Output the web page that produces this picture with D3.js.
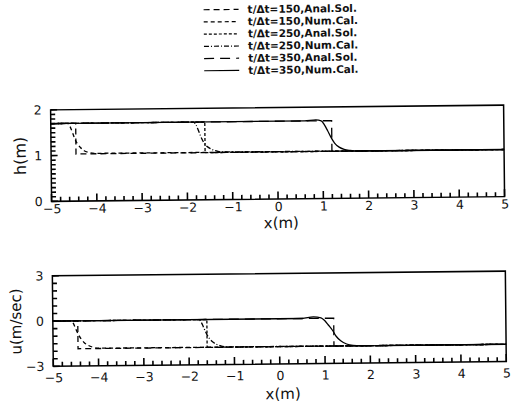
<!DOCTYPE html>
<html>
<head>
<meta charset="utf-8">
<script src="https://cdn.jsdelivr.net/npm/d3@7"></script>
<style>
  html, body { margin: 0; padding: 0; background: #fff; }
  svg { display: block; }
  text { font-family: "DejaVu Sans", sans-serif; fill: #111; }
</style>
</head>
<body>
<svg id="chart" width="516" height="402"></svg>
<script>
// ---- data -----------------------------------------------------------
const legendLabels = [
  "t/\u0394t=150,Anal.Sol.",
  "t/\u0394t=150,Num.Cal.",
  "t/\u0394t=250,Anal.Sol.",
  "t/\u0394t=250,Num.Cal.",
  "t/\u0394t=350,Anal.Sol.",
  "t/\u0394t=350,Num.Cal."
];
const lineDashes = ["6,4", "4,3", "3,2", "5,2,1,2", "10,6", null];

const xTicksMajor = [-5, -4, -3, -2, -1, 0, 1, 2, 3, 4, 5];
const hTicksMajor = [0, 1, 2];
const uTicksMajor = [-3, 0, 3];

// analytical solutions (step profiles), [x, value]
const hAnal150 = [[-5, 1.7], [-4.45, 1.7], [-4.45, 1.03], [5, 1.03]];
const hAnal250 = [[-5, 1.7], [-1.6, 1.7], [-1.6, 1.03], [5, 1.03]];
const hAnal350 = [[-5, 1.7], [1.2, 1.7], [1.2, 1.03], [5, 1.03]];
const uAnal150 = [[-5, 0], [-4.45, 0], [-4.45, -1.85], [5, -1.85]];
const uAnal250 = [[-5, 0], [-1.6, 0], [-1.6, -1.85], [5, -1.85]];
const uAnal350 = [[-5, 0], [1.2, 0], [1.2, -1.85], [5, -1.85]];

// numerical results, x positions and values
const x150Num = [-5, -4.63, -4.58, -4.53, -4.48, -4.42, -4.35, -4.27, -4.17, -4.03, 5];
const h150Num = [1.7, 1.7, 1.64, 1.52, 1.38, 1.26, 1.17, 1.1, 1.06, 1.04, 1.03];
const x250Num = [-5, -1.85, -1.79, -1.74, -1.69, -1.63, -1.56, -1.47, -1.37, -1.22, 5];
const h250Num = [1.7, 1.7, 1.63, 1.51, 1.38, 1.26, 1.17, 1.11, 1.07, 1.04, 1.03];
const x350Num = [-5, 0.6, 0.85, 0.97, 1.04, 1.11, 1.18, 1.26, 1.36, 1.47, 1.6, 1.8, 5];
const h350Num = [1.7, 1.7, 1.72, 1.7, 1.61, 1.48, 1.34, 1.21, 1.12, 1.07, 1.045, 1.03, 1.03];

const xu150Num = [-5, -4.6, -4.55, -4.5, -4.44, -4.38, -4.31, -4.23, -4.13, -3.98, 5];
const u150Num = [0, 0, -0.15, -0.5, -0.9, -1.2, -1.45, -1.62, -1.75, -1.83, -1.85];
const xu250Num = [-5, -1.78, -1.72, -1.67, -1.61, -1.55, -1.48, -1.4, -1.3, -1.15, 5];
const u250Num = [0, 0, -0.2, -0.55, -0.95, -1.25, -1.48, -1.64, -1.75, -1.83, -1.85];
const xu350Num = [-5, 0.5, 0.75, 0.92, 1.0, 1.08, 1.17, 1.25, 1.35, 1.48, 1.62, 1.8, 5];
const u350Num = [0, 0, 0.1, 0.03, -0.15, -0.45, -0.8, -1.2, -1.5, -1.72, -1.82, -1.85, -1.85];

// ---- layout ---------------------------------------------------------
const svg = d3.select("#chart");
const root = svg.append("g").attr("transform", "rotate(-0.6, 278, 240)");

const x = d3.scaleLinear().domain([-5, 5]).range([52, 505]);
const yh = d3.scaleLinear().domain([0, 2]).range([199, 107.5]);
const yu = d3.scaleLinear().domain([-3, 3]).range([364, 273.5]);

const zip = (xs, vs) => xs.map((d, i) => [d, vs[i]]);
const isMajor = v => Math.abs(v - Math.round(v)) < 1e-6;
const INK = "#000";

function panel(y, yMinorStep, yMajor, seriesList, yLabel, yLabelFont, xLabelY, xTickPad) {
  const g = root.append("g");
  const [x0, x1] = x.range();
  const [yb, yt] = y.range();

  // box around the plotting area
  g.append("rect")
    .attr("x", x0).attr("y", yt).attr("width", x1 - x0).attr("height", yb - yt)
    .attr("fill", "none").attr("stroke", INK).attr("stroke-width", 1.5);

  // x ticks every 0.2, longer at integers, pointing into the plot
  const xTickVals = d3.range(-5, 5.0001, 0.2).map(v => +v.toFixed(2));
  const xt = xTickVals.map(d => `M${x(d)},${yb}V${yb - (isMajor(d) ? 7.5 : 4.5)}`).join("");
  g.append("path").attr("d", xt).attr("fill", "none")
    .attr("stroke", INK).attr("stroke-width", 1.6);

  // y ticks
  const [d0, d1] = y.domain();
  const yTickVals = d3.range(d0, d1 + 1e-6, yMinorStep).map(v => +v.toFixed(2));
  const yt2 = yTickVals.map(d => `M${x0},${y(d)}H${x0 + (yMajor.includes(d) ? 6.5 : 4.5)}`).join("");
  g.append("path").attr("d", yt2).attr("fill", "none")
    .attr("stroke", INK).attr("stroke-width", 1.6);

  // tick labels through the axis generators
  g.append("g").attr("transform", `translate(0,${yb})`)
    .call(d3.axisBottom(x).tickValues(xTicksMajor).tickSize(0).tickPadding(xTickPad)
      .tickFormat(d3.format("d")))
    .call(a => a.select(".domain").remove())
    .call(a => a.selectAll("text").attr("font-size", 12.5));
  g.append("g").attr("transform", `translate(${x0},0)`)
    .call(d3.axisLeft(y).tickValues(yMajor).tickSize(0).tickPadding(9)
      .tickFormat(d3.format("d")))
    .call(a => a.select(".domain").remove())
    .call(a => a.selectAll("text").attr("font-size", 12.5));

  // curves
  const lineLin = d3.line().x(d => x(d[0])).y(d => y(d[1]));
  const lineSmooth = d3.line().x(d => x(d[0])).y(d => y(d[1])).curve(d3.curveMonotoneX);
  seriesList.forEach((s, i) => {
    g.append("path")
      .attr("d", (s.smooth ? lineSmooth : lineLin)(s.pts))
      .attr("fill", "none")
      .attr("stroke", INK)
      .attr("stroke-width", 1.3)
      .attr("stroke-dasharray", lineDashes[i]);
  });

  // axis titles
  g.append("text")
    .attr("transform", `translate(${yLabel.x},${(yb + yt) / 2}) rotate(-90)`)
    .attr("text-anchor", "middle").attr("dy", "0.35em")
    .attr("font-size", yLabelFont).text(yLabel.text);
  g.append("text")
    .attr("x", x(0) + 3).attr("y", xLabelY)
    .attr("text-anchor", "middle").attr("font-size", 15).text("x(m)");
}

panel(yh, 0.1, hTicksMajor, [
  { pts: hAnal150 }, { pts: zip(x150Num, h150Num), smooth: true },
  { pts: hAnal250 }, { pts: zip(x250Num, h250Num), smooth: true },
  { pts: hAnal350 }, { pts: zip(x350Num, h350Num), smooth: true }
], { x: 21, text: "h(m)" }, 16, 228, 3);

panel(yu, 0.5, uTicksMajor, [
  { pts: uAnal150 }, { pts: zip(xu150Num, u150Num), smooth: true },
  { pts: uAnal250 }, { pts: zip(xu250Num, u250Num), smooth: true },
  { pts: uAnal350 }, { pts: zip(xu350Num, u350Num), smooth: true }
], { x: 15, text: "u(m/sec)" }, 15, 399, 7);

// legend
const legend = root.append("g");
legendLabels.forEach((lab, i) => {
  const yy = 9 + i * 12.2;
  legend.append("line")
    .attr("x1", 206).attr("x2", 241).attr("y1", yy).attr("y2", yy)
    .attr("stroke", INK).attr("stroke-width", 1.2)
    .attr("stroke-dasharray", lineDashes[i]);
  legend.append("text")
    .attr("x", 250).attr("y", yy).attr("dy", "0.35em")
    .attr("font-size", 10.5).attr("font-weight", "bold").text(lab);
});
</script>
</body>
</html>
